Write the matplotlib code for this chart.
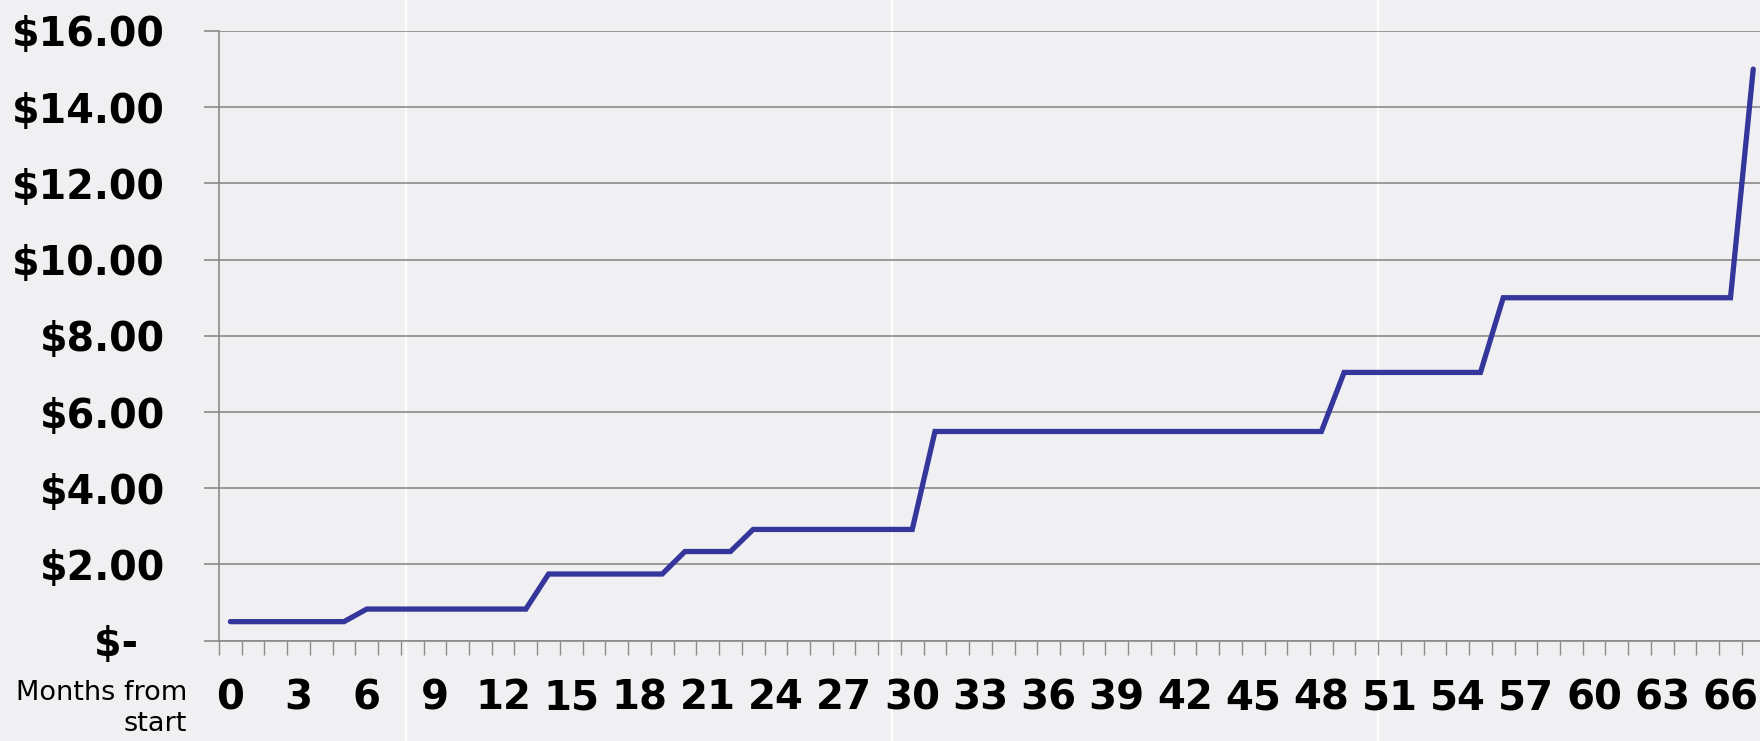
import matplotlib
matplotlib.use("Agg")
import matplotlib.pyplot as plt
from matplotlib.lines import Line2D

# months since start (category axis) and price per month
months = list(range(0, 68))
prices = [
    0.50, 0.50, 0.50, 0.50, 0.50, 0.50,
    0.83, 0.83, 0.83, 0.83, 0.83, 0.83, 0.83, 0.83,
    1.75, 1.75, 1.75, 1.75, 1.75, 1.75,
    2.34, 2.34, 2.34,
    2.92, 2.92, 2.92, 2.92, 2.92, 2.92, 2.92, 2.92,
    5.49, 5.49, 5.49, 5.49, 5.49, 5.49, 5.49, 5.49, 5.49,
    5.49, 5.49, 5.49, 5.49, 5.49, 5.49, 5.49, 5.49, 5.49,
    7.04, 7.04, 7.04, 7.04, 7.04, 7.04, 7.04,
    9.00, 9.00, 9.00, 9.00, 9.00, 9.00, 9.00, 9.00, 9.00, 9.00, 9.00,
    15.00,
]
y_ticks = [0, 2, 4, 6, 8, 10, 12, 14, 16]
y_labels = ["$-  ", "$2.00", "$4.00", "$6.00", "$8.00", "$10.00", "$12.00", "$14.00", "$16.00"]
x_label = "Months from\nstart"

BG = "#f0f0f2"
GRID = "#8b8b8b"
LINE = "#35369b"

plt.rcParams["font.family"] = ["DejaVu Sans"]

W, H = 1760, 741
fig = plt.figure(figsize=(W / 100, H / 100), dpi=100, facecolor=BG)

# faint white stripes behind the chart
for xp in [406, 892, 1378]:
    fig.add_artist(Line2D([xp / W, xp / W], [0, 1], transform=fig.transFigure,
                          color="white", lw=1.6, alpha=0.9, zorder=-1))

left, right, bottom, top = 219, 1764.6, 640.7, 31
ax = fig.add_axes([left / W, (H - bottom) / H, (right - left) / W, (bottom - top) / H])
ax.patch.set_visible(False)

ax.plot(months, prices, color=LINE, lw=3.8, solid_joinstyle="miter",
        solid_capstyle="round", zorder=3)

ax.set_xlim(-0.5, len(months) - 0.5)
ax.set_ylim(0, 16)

ax.set_yticks(y_ticks, y_labels)
ax.yaxis.grid(True, color=GRID, lw=1.2)
ax.set_axisbelow(True)
ax.tick_params(axis="y", length=10.8, width=1.2, color=GRID, pad=28,
               labelsize=28.5)
for lab in ax.get_yticklabels():
    lab.set_fontweight("bold")

ax.set_xticks(months[::3], [str(m) for m in months[::3]])
ax.set_xticks([m - 0.5 for m in months] + [months[-1] + 0.5], minor=True)
ax.tick_params(axis="x", which="major", length=0, pad=27, labelsize=29)
ax.tick_params(axis="x", which="minor", length=10, width=1.0, color=GRID)
for lab in ax.get_xticklabels():
    lab.set_fontweight("bold")

for side in ["top", "right"]:
    ax.spines[side].set_visible(False)
ax.spines["left"].set_color(GRID)
ax.spines["left"].set_linewidth(1.2)
ax.spines["bottom"].set_color(GRID)
ax.spines["bottom"].set_linewidth(1.2)

fig.text(187 / W, (H - 680) / H, x_label, ha="right", va="top",
         fontsize=19.5, linespacing=1.25, color="black")

fig.savefig("out.png", dpi=100, facecolor=BG)
